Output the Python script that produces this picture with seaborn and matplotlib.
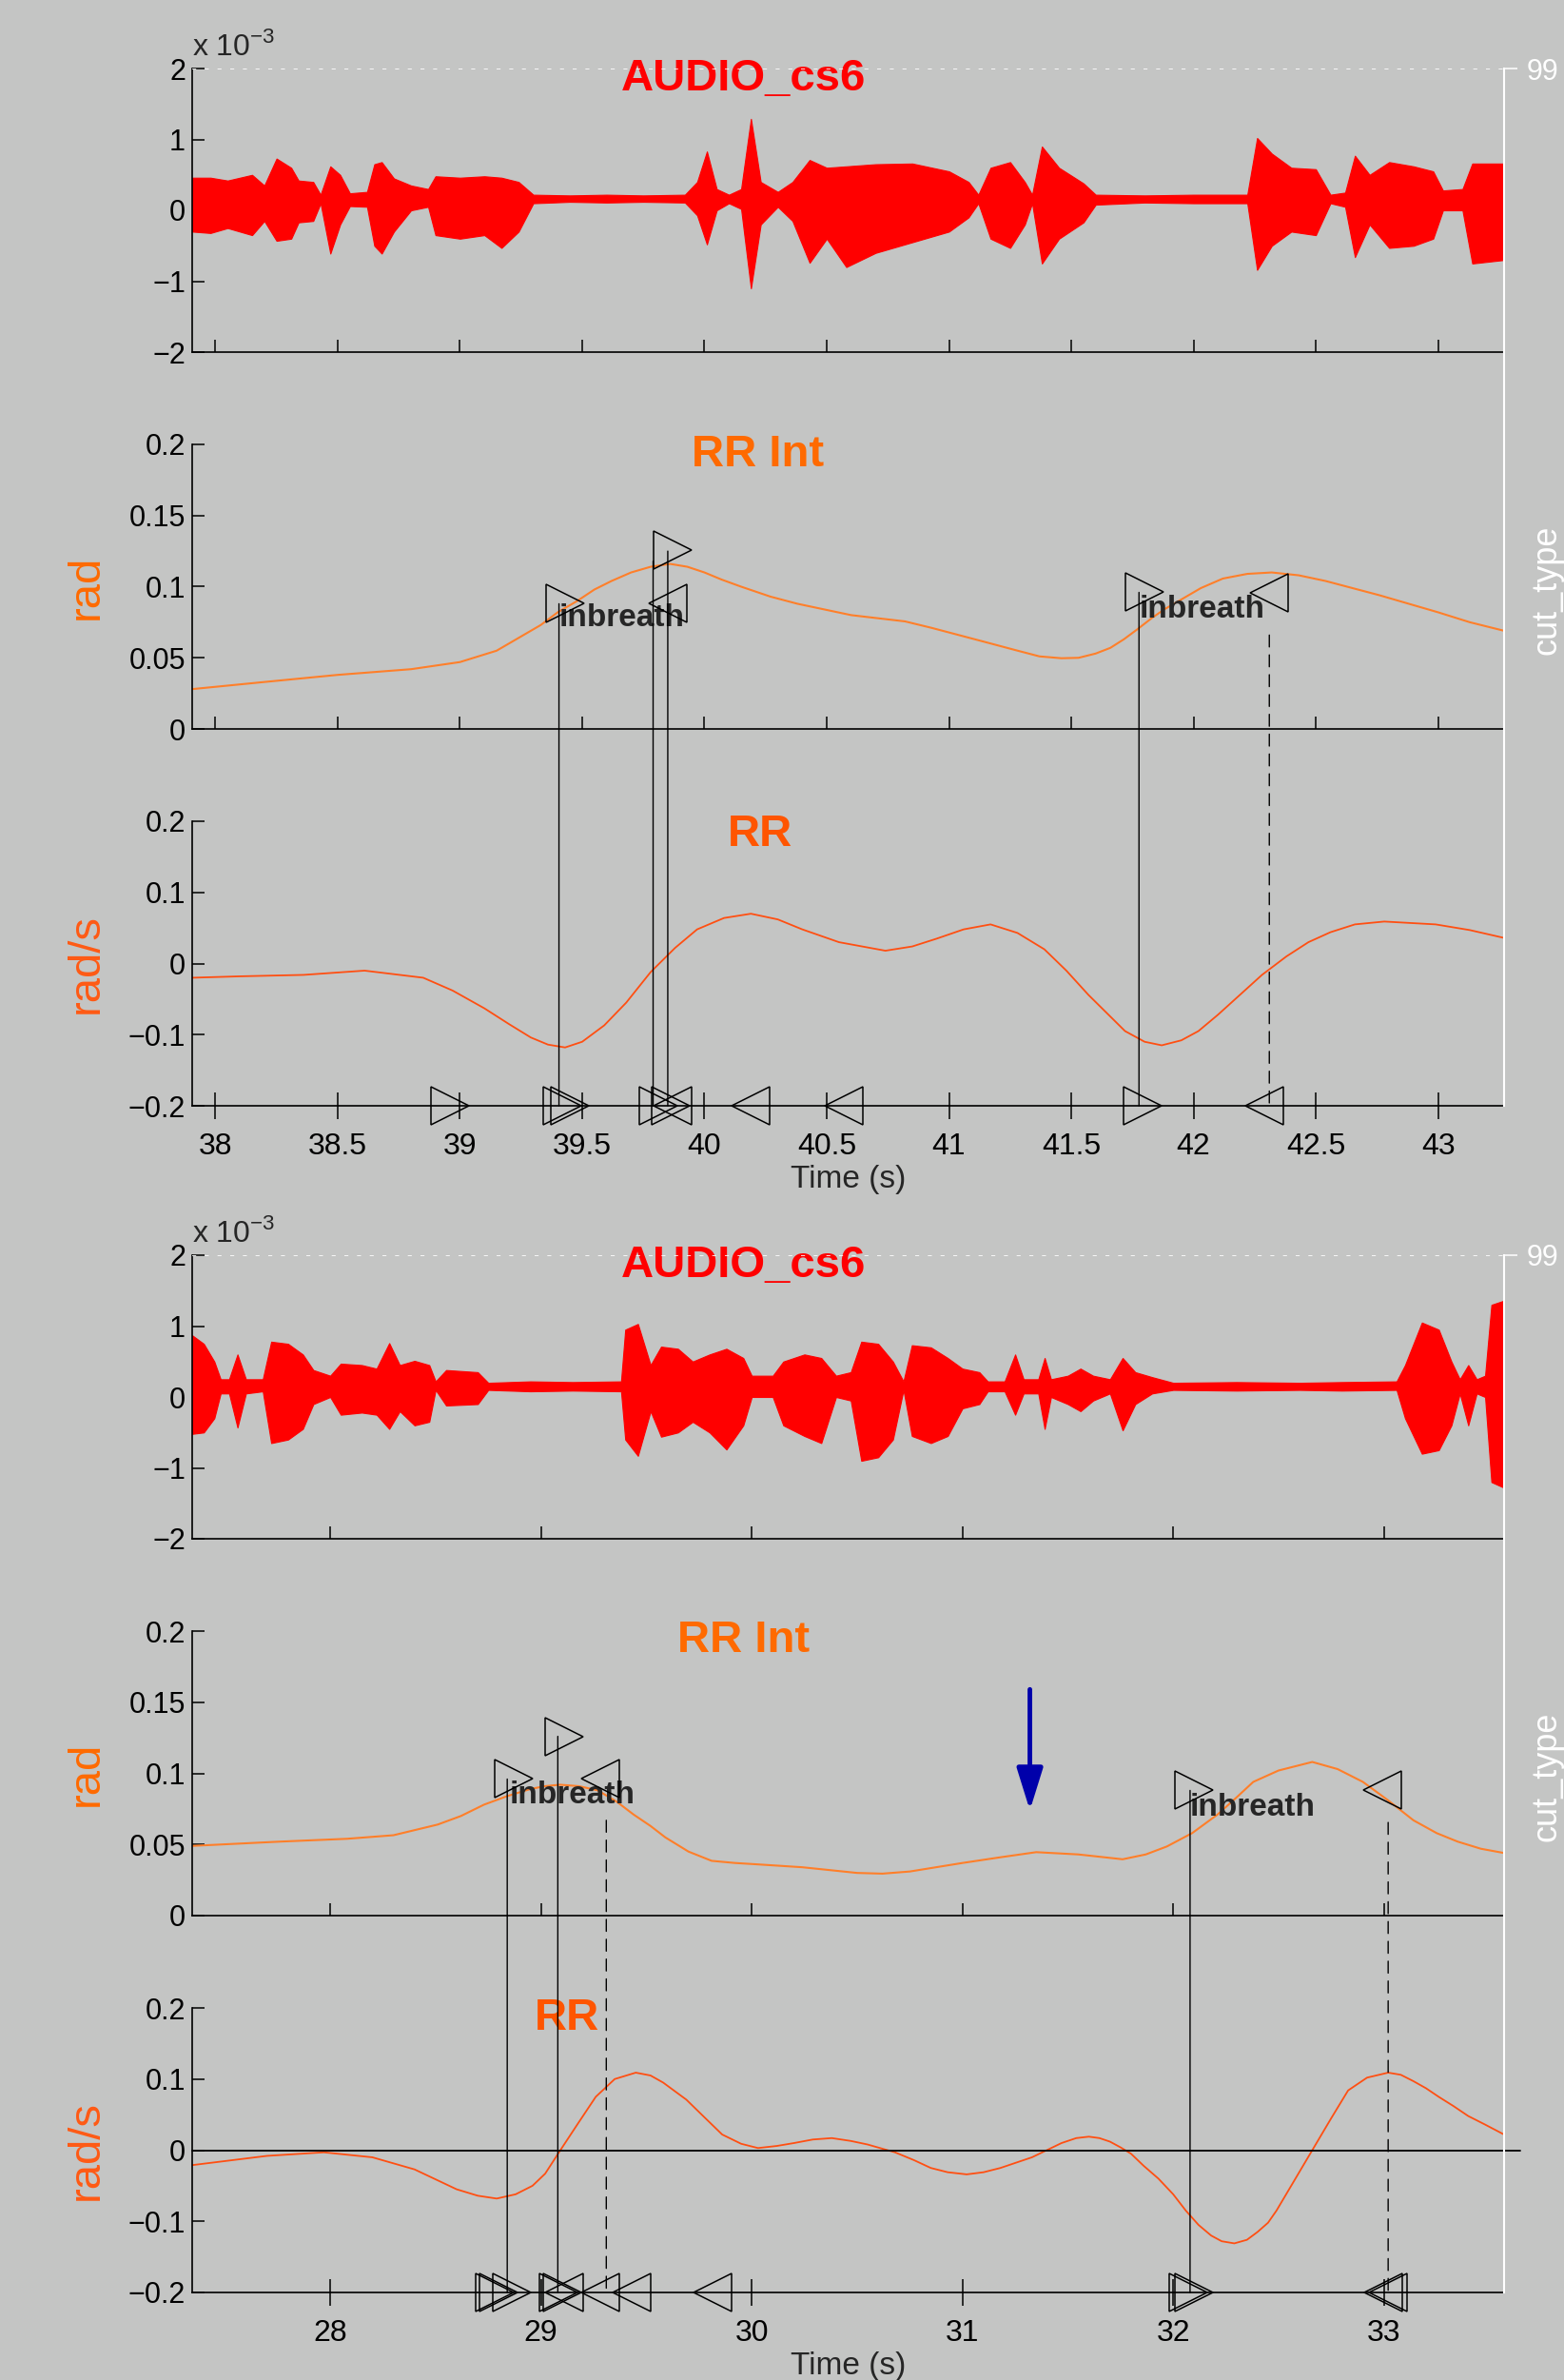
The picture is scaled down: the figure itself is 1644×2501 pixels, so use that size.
import matplotlib
matplotlib.use("Agg")
import matplotlib.pyplot as plt
import seaborn as sns
from matplotlib.patches import ConnectionPatch
from matplotlib.ticker import FuncFormatter, MultipleLocator

# ---- upper window, 38-43 s ----
up_audio_t = [37.905, 37.98, 38.05, 38.15, 38.20, 38.25, 38.31, 38.34, 38.40, 38.43,
              38.47, 38.51, 38.55, 38.62, 38.65, 38.68, 38.73, 38.80, 38.87, 38.90,
              39.00, 39.10, 39.17, 39.24, 39.30, 39.45, 39.60, 39.75, 39.92, 39.97,
              40.01, 40.05, 40.10, 40.15, 40.19, 40.23, 40.30, 40.36, 40.43, 40.50,
              40.58, 40.70, 40.85, 41.00, 41.08, 41.12, 41.17, 41.25, 41.31, 41.34,
              41.38, 41.45, 41.55, 41.60, 41.80, 42.00, 42.22, 42.26, 42.32, 42.40,
              42.50, 42.56, 42.62, 42.66, 42.72, 42.80, 42.90, 42.98, 43.02, 43.10,
              43.14, 43.27]
up_audio_hi = [0.46, 0.46, 0.42, 0.50, 0.35, 0.73, 0.60, 0.42, 0.40, 0.22,
               0.62, 0.50, 0.24, 0.26, 0.65, 0.68, 0.45, 0.35, 0.30, 0.48,
               0.46, 0.48, 0.46, 0.40, 0.22, 0.21, 0.22, 0.21, 0.22, 0.40,
               0.83, 0.30, 0.22, 0.30, 1.29, 0.40, 0.26, 0.40, 0.71, 0.60,
               0.62, 0.65, 0.66, 0.55, 0.40, 0.22, 0.60, 0.68, 0.40, 0.22,
               0.90, 0.60, 0.38, 0.22, 0.21, 0.22, 0.22, 1.02, 0.80, 0.60,
               0.58, 0.22, 0.25, 0.77, 0.50, 0.68, 0.62, 0.55, 0.28, 0.30,
               0.66, 0.66]
up_audio_lo = [-0.30, -0.32, -0.25, -0.35, -0.15, -0.43, -0.40, -0.17, -0.15, 0.10,
               -0.61, -0.20, 0.06, 0.05, -0.50, -0.61, -0.30, 0.00, 0.05, -0.35,
               -0.40, -0.35, -0.53, -0.30, 0.10, 0.12, 0.11, 0.12, 0.11, -0.07,
               -0.48, 0.00, 0.10, 0.02, -1.10, -0.20, 0.05, -0.15, -0.74, -0.40,
               -0.80, -0.60, -0.45, -0.30, -0.10, 0.10, -0.40, -0.53, -0.20, 0.10,
               -0.75, -0.40, -0.17, 0.08, 0.11, 0.10, 0.10, -0.84, -0.50, -0.30,
               -0.35, 0.10, 0.05, -0.66, -0.20, -0.53, -0.50, -0.40, 0.00, 0.00,
               -0.75, -0.70]

up_int_t = [37.905, 38.20, 38.50, 38.80, 39.00, 39.15, 39.26, 39.33, 39.40, 39.48,
            39.55, 39.62, 39.70, 39.78, 39.86, 39.93, 40.00, 40.07, 40.15, 40.27,
            40.38, 40.49, 40.60, 40.70, 40.82, 40.93, 41.04, 41.15, 41.27, 41.37,
            41.46, 41.53, 41.60, 41.66, 41.715, 41.77, 41.83, 41.88, 41.94, 42.03,
            42.12, 42.22, 42.32, 42.43, 42.54, 42.65, 42.76, 42.88, 43.00, 43.13,
            43.27]
up_int_v = [0.028, 0.033, 0.038, 0.042, 0.047, 0.055, 0.066, 0.073, 0.082, 0.090,
            0.098, 0.104, 0.110, 0.114, 0.116, 0.114, 0.110, 0.105, 0.100, 0.093,
            0.088, 0.084, 0.080, 0.078, 0.0756, 0.071, 0.066, 0.061, 0.0555, 0.051,
            0.0497, 0.050, 0.053, 0.057, 0.063, 0.070, 0.078, 0.084, 0.090, 0.099,
            0.1057, 0.109, 0.110, 0.108, 0.104, 0.099, 0.094, 0.088, 0.082, 0.075,
            0.069]

up_rr_t = [37.905, 38.10, 38.36, 38.61, 38.85, 38.97, 39.10, 39.20, 39.29, 39.36,
           39.43, 39.50, 39.59, 39.68, 39.78, 39.88, 39.97, 40.08, 40.19, 40.30,
           40.40, 40.55, 40.74, 40.85, 40.95, 41.06, 41.17, 41.28, 41.39, 41.48,
           41.57, 41.72, 41.80, 41.87, 41.95, 42.02, 42.10, 42.19, 42.28, 42.38,
           42.47, 42.56, 42.66, 42.78, 42.99, 43.13, 43.27]
up_rr_v = [-0.020, -0.018, -0.016, -0.010, -0.020, -0.038, -0.063, -0.085, -0.104, -0.114,
           -0.118, -0.110, -0.087, -0.055, -0.012, 0.022, 0.048, 0.064, 0.070, 0.062,
           0.048, 0.030, 0.018, 0.024, 0.035, 0.048, 0.055, 0.043, 0.020, -0.010,
           -0.044, -0.095, -0.110, -0.115, -0.108, -0.095, -0.072, -0.044, -0.016, 0.010,
           0.030, 0.044, 0.055, 0.059, 0.055, 0.047, 0.036]

up_rr_open = [38.96, 39.42, 39.45, 39.81, 39.86, 41.79]
up_rr_close = [39.87, 40.19, 40.57, 42.29]
up_int_open_t = [39.43, 39.87, 41.80]
up_int_open_y = [0.088, 0.126, 0.096]
up_int_close_t = [39.85, 42.31]
up_int_close_y = [0.088, 0.0957]
up_solid_t = [39.405, 39.79, 39.85, 41.777]
up_solid_y = [0.088, 0.118, 0.125, 0.096]
up_dash_t = [42.31]
up_dash_y = [0.066]
up_inbreath_t = [39.405, 41.777]
up_inbreath_y = [0.0776, 0.084]

# ---- lower window, 28-33 s ----
lo_audio_t = [27.345, 27.40, 27.45, 27.48, 27.52, 27.56, 27.60, 27.68, 27.72, 27.80,
              27.87, 27.92, 28.00, 28.05, 28.15, 28.22, 28.28, 28.33, 28.40, 28.47,
              28.50, 28.55, 28.70, 28.75, 28.95, 29.15, 29.38, 29.40, 29.46, 29.52,
              29.57, 29.65, 29.72, 29.80, 29.88, 29.96, 30.00, 30.10, 30.15, 30.25,
              30.33, 30.40, 30.47, 30.52, 30.60, 30.67, 30.72, 30.76, 30.85, 30.93,
              31.00, 31.08, 31.12, 31.20, 31.25, 31.29, 31.36, 31.39, 31.42, 31.50,
              31.56, 31.62, 31.70, 31.76, 31.82, 31.90, 32.00, 32.30, 32.60, 32.80,
              33.06, 33.10, 33.18, 33.26, 33.32, 33.36, 33.40, 33.44, 33.48, 33.51,
              33.57]
lo_audio_hi = [0.87, 0.75, 0.50, 0.25, 0.25, 0.60, 0.25, 0.25, 0.78, 0.75,
               0.60, 0.38, 0.30, 0.47, 0.45, 0.40, 0.76, 0.45, 0.51, 0.45,
               0.22, 0.38, 0.35, 0.20, 0.22, 0.21, 0.22, 0.95, 1.03, 0.45,
               0.71, 0.68, 0.50, 0.60, 0.68, 0.55, 0.30, 0.30, 0.50, 0.60,
               0.55, 0.30, 0.35, 0.78, 0.75, 0.50, 0.22, 0.73, 0.70, 0.55,
               0.40, 0.35, 0.22, 0.22, 0.60, 0.25, 0.25, 0.55, 0.25, 0.30,
               0.40, 0.30, 0.25, 0.55, 0.35, 0.28, 0.20, 0.21, 0.20, 0.21,
               0.22, 0.45, 1.05, 0.95, 0.50, 0.25, 0.45, 0.25, 0.30, 1.30,
               1.36]
lo_audio_lo = [-0.52, -0.50, -0.30, 0.05, 0.05, -0.43, 0.05, 0.08, -0.65, -0.60,
               -0.45, -0.10, 0.00, -0.25, -0.22, -0.25, -0.45, -0.20, -0.40, -0.35,
               0.10, -0.12, -0.10, 0.10, 0.08, 0.09, 0.08, -0.60, -0.83, -0.20,
               -0.56, -0.50, -0.35, -0.50, -0.74, -0.40, 0.00, 0.00, -0.40, -0.55,
               -0.65, 0.00, -0.05, -0.90, -0.85, -0.60, 0.10, -0.55, -0.65, -0.55,
               -0.16, -0.10, 0.08, 0.08, -0.25, 0.05, 0.05, -0.45, 0.00, -0.10,
               -0.20, -0.05, 0.05, -0.47, -0.10, 0.05, 0.10, 0.09, 0.10, 0.09,
               0.10, -0.30, -0.80, -0.75, -0.40, 0.05, -0.40, 0.05, 0.00, -1.20,
               -1.28]

lo_int_t = [27.345, 27.76, 28.08, 28.30, 28.51, 28.62, 28.73, 28.84, 28.95, 29.02,
            29.09, 29.18, 29.27, 29.36, 29.44, 29.52, 29.59, 29.70, 29.81, 29.92,
            30.03, 30.24, 30.50, 30.62, 30.75, 31.00, 31.18, 31.35, 31.55, 31.76,
            31.87, 31.97, 32.09, 32.21, 32.30, 32.38, 32.50, 32.66, 32.78, 32.90,
            33.02, 33.14, 33.25, 33.35, 33.46, 33.57]
lo_int_v = [0.049, 0.052, 0.054, 0.0565, 0.064, 0.070, 0.078, 0.084, 0.089, 0.091,
            0.092, 0.091, 0.088, 0.080, 0.071, 0.063, 0.055, 0.045, 0.0385, 0.037,
            0.036, 0.034, 0.030, 0.0295, 0.031, 0.037, 0.041, 0.0446, 0.043, 0.0396,
            0.043, 0.0486, 0.058, 0.071, 0.083, 0.094, 0.102, 0.108, 0.103, 0.094,
            0.081, 0.067, 0.058, 0.052, 0.047, 0.044]

lo_rr_t = [27.345, 27.70, 27.97, 28.20, 28.40, 28.60, 28.70, 28.79, 28.88, 28.96,
           29.02, 29.09, 29.17, 29.26, 29.35, 29.45, 29.52, 29.58, 29.69, 29.78,
           29.86, 29.95, 30.03, 30.12, 30.20, 30.29, 30.38, 30.47, 30.55, 30.68,
           30.77, 30.85, 30.93, 31.02, 31.10, 31.18, 31.25, 31.33, 31.40, 31.47,
           31.54, 31.60, 31.65, 31.70, 31.75, 31.80, 31.86, 31.93, 32.00, 32.06,
           32.12, 32.18, 32.23, 32.29, 32.35, 32.40, 32.45, 32.49, 32.57, 32.66,
           32.75, 32.83, 32.92, 33.02, 33.08, 33.14, 33.20, 33.26, 33.33, 33.40,
           33.48, 33.57]
lo_rr_v = [-0.021, -0.008, -0.003, -0.010, -0.027, -0.055, -0.064, -0.068, -0.062, -0.050,
           -0.033, -0.001, 0.035, 0.075, 0.100, 0.109, 0.105, 0.095, 0.071, 0.045,
           0.022, 0.009, 0.003, 0.006, 0.010, 0.015, 0.017, 0.013, 0.008, -0.003,
           -0.014, -0.025, -0.031, -0.034, -0.031, -0.025, -0.018, -0.010, 0.000, 0.010,
           0.017, 0.019, 0.017, 0.012, 0.004, -0.005, -0.022, -0.040, -0.062, -0.085,
           -0.105, -0.120, -0.128, -0.131, -0.126, -0.115, -0.102, -0.085, -0.045, 0.000,
           0.045, 0.084, 0.102, 0.109, 0.106, 0.097, 0.087, 0.075, 0.062, 0.048,
           0.036, 0.022]
lo_rr_zero_t = [27.345, 33.645]
lo_rr_zero_v = [0.0, 0.0]

lo_rr_open = [28.78, 28.80, 28.86, 29.085, 29.10, 32.07, 32.10]
lo_rr_close = [29.11, 29.28, 29.43, 29.815, 32.995, 33.02]
lo_int_open_t = [28.87, 29.11, 32.10]
lo_int_open_y = [0.096, 0.126, 0.088]
lo_int_close_t = [29.28, 32.99]
lo_int_close_y = [0.096, 0.088]
lo_solid_t = [28.84, 29.08, 32.08]
lo_solid_y = [0.096, 0.126, 0.088]
lo_dash_t = [29.31, 33.02]
lo_dash_y = [0.067, 0.0655]
lo_inbreath_t = [28.85, 32.08]
lo_inbreath_y = [0.0845, 0.076]

arrow_t = 31.32
arrow_from = 0.159
arrow_to = 0.074
cut_type_level = 99

## Style

BG = "#c4c5c4"
sns.set_theme(style="ticks", rc={"figure.facecolor": BG, "axes.facecolor": BG,
                                 "savefig.facecolor": BG, "axes.edgecolor": "black",
                                 "xtick.color": "black", "ytick.color": "black"})
plt.rcParams["font.family"] = ["Liberation Sans", "DejaVu Sans"]
plt.rcParams["mathtext.fontset"] = "custom"
plt.rcParams["mathtext.rm"] = "Liberation Sans"

W, H = 1644, 2501
L, R = 202, 1581
fig = plt.figure(figsize=(W / 100, H / 100), dpi=100)


def fmt(v, pos):
    if abs(v) < 1e-9:
        return "0"
    return f"{v:g}".replace("-", "\u2212")


def box(top, bot):
    return [L / W, 1 - bot / H, (R - L) / W, (bot - top) / H]


def make_axes(top, bot, xlim, ylim, yticks, xstep, xdir, xlen, xlabels):
    ax = fig.add_axes(box(top, bot))
    ax.set_xlim(xlim)
    ax.set_ylim(ylim)
    ax.set_yticks(yticks)
    ax.xaxis.set_major_locator(MultipleLocator(xstep))
    ax.xaxis.set_major_formatter(FuncFormatter(fmt))
    ax.yaxis.set_major_formatter(FuncFormatter(fmt))
    for s in ("top", "right"):
        ax.spines[s].set_visible(False)
    for s in ("left", "bottom"):
        ax.spines[s].set_linewidth(1.2)
    ax.tick_params(axis="y", direction="in", length=9.5, width=1.1, labelsize=22, pad=5)
    ax.tick_params(axis="x", direction=xdir, length=xlen, width=1.1, labelsize=23,
                   pad=10, labelbottom=xlabels)
    return ax


def title(ax, x, y, s, color):
    ax.text(x, y, s, transform=ax.transAxes, ha="center", va="center",
            fontsize=34, fontweight="bold", color=color)


def draw_group(y0, xlim, xstep, audio, rrint, rr, rr_open, rr_close, int_open, int_close,
               solid, dash, inbreath, tpos):
    # audio trace
    ax_a = make_axes(y0, y0 + 298, xlim, (-2, 2), [-2, -1, 0, 1, 2], xstep, "in", 9.5, False)
    ax_a.fill_between(audio[0], audio[2], audio[1], color="#ff0000", lw=0.8)
    ax_a.text(0, 1.047, r"x 10$^{\mathregular{-3}}$", transform=ax_a.transAxes,
              fontsize=23, ha="left", va="baseline")
    title(ax_a, tpos[0][0], tpos[0][1], "AUDIO_cs6", "#ff0000")

    # integrated respiration
    ax_i = make_axes(y0 + 395, y0 + 694, xlim, (0, 0.2), [0, 0.05, 0.1, 0.15, 0.2],
                     xstep, "in", 9.5, False)
    sns.lineplot(x=rrint[0], y=rrint[1], ax=ax_i, color="#ff7f2a", lw=1.5, sort=False)
    title(ax_i, tpos[1][0], tpos[1][1], "RR Int", "#ff6a00")
    ax_i.set_ylabel("rad", fontsize=34, color="#ff6a00")
    ax_i.yaxis.set_label_coords((113 - L) / (R - L), 0.5)
    ax_i.set_xlabel("")

    # respiration rate
    ax_r = make_axes(y0 + 791, y0 + 1090, xlim, (-0.2, 0.2), [-0.2, -0.1, 0, 0.1, 0.2],
                     xstep, "inout", 20, True)
    sns.lineplot(x=rr[0], y=rr[1], ax=ax_r, color="#ff4f12", lw=1.3, sort=False)
    title(ax_r, tpos[2][0], tpos[2][1], "RR", "#ff5500")
    ax_r.set_ylabel("rad/s", fontsize=34, color="#ff5a14")
    ax_r.yaxis.set_label_coords((113 - L) / (R - L), 0.5)
    ax_r.set_xlabel("Time (s)", fontsize=24, labelpad=3)

    mk = dict(ls="none", ms=29, mfc="none", mec="black", mew=1.1, clip_on=False, zorder=5)
    ax_r.plot(rr_open, [-0.2] * len(rr_open), marker=">", **mk)
    ax_r.plot(rr_close, [-0.2] * len(rr_close), marker="<", **mk)
    ax_i.plot(int_open[0], int_open[1], marker=">", **mk)
    ax_i.plot(int_close[0], int_close[1], marker="<", **mk)

    for ts, ys, ls in ((solid[0], solid[1], "-"), (dash[0], dash[1], (0, (9, 6)))):
        for t, y in zip(ts, ys):
            con = ConnectionPatch(xyA=(t, y), coordsA=ax_i.transData,
                                  xyB=(t, -0.2), coordsB=ax_r.transData,
                                  color="black", lw=1.0, ls=ls, zorder=4)
            fig.add_artist(con)

    for t, y in zip(inbreath[0], inbreath[1]):
        ax_i.text(t, y, "inbreath", fontsize=24, fontweight="bold", ha="left", va="center")

    # white cut_type overlay on the right
    ov = fig.add_axes(box(y0, y0 + 1090))
    ov.patch.set_visible(False)
    for s in ("left", "top", "bottom"):
        ov.spines[s].set_visible(False)
    ov.spines["right"].set_color("white")
    ov.spines["right"].set_linewidth(1.5)
    ov.set_xlim(0, 1)
    ov.set_xticks([])
    ov.set_ylim(0, cut_type_level)
    ov.yaxis.tick_right()
    ov.set_yticks([cut_type_level])
    ov.set_yticklabels([str(cut_type_level)])
    ov.tick_params(axis="y", colors="white", direction="out", length=10, width=1.1,
                   labelsize=22, pad=7)
    ov.axhline(cut_type_level, color="white", ls=(0, (2.5, 5.5)), lw=1.2)
    ov.text((1608 - L) / (R - L), 0.497, "cut_type", transform=ov.transAxes, rotation=90,
            ha="left", va="center", fontsize=26, color="white")
    return ax_a, ax_i, ax_r


draw_group(72, (37.905, 43.27), 0.5,
           (up_audio_t, up_audio_hi, up_audio_lo), (up_int_t, up_int_v), (up_rr_t, up_rr_v),
           up_rr_open, up_rr_close, (up_int_open_t, up_int_open_y),
           (up_int_close_t, up_int_close_y), (up_solid_t, up_solid_y),
           (up_dash_t, up_dash_y), (up_inbreath_t, up_inbreath_y),
           [(0.42, 0.962), (0.431, 0.962), (0.433, 0.953)])

ax_a2, ax_i2, ax_r2 = draw_group(
    1319, (27.345, 33.57), 1,
    (lo_audio_t, lo_audio_hi, lo_audio_lo), (lo_int_t, lo_int_v), (lo_rr_t, lo_rr_v),
    lo_rr_open, lo_rr_close, (lo_int_open_t, lo_int_open_y),
    (lo_int_close_t, lo_int_close_y), (lo_solid_t, lo_solid_y),
    (lo_dash_t, lo_dash_y), (lo_inbreath_t, lo_inbreath_y),
    [(0.42, 0.962), (0.42, 0.966), (0.286, 0.963)])

ax_r2.plot(lo_rr_zero_t, lo_rr_zero_v, color="black", lw=1.3, clip_on=False, zorder=3)
ax_i2.annotate("", xy=(arrow_t, arrow_to), xytext=(arrow_t, arrow_from),
               arrowprops=dict(arrowstyle="-|>,head_length=1.35,head_width=0.42",
                               mutation_scale=20, color="#0000aa", lw=3.5,
                               shrinkA=0, shrinkB=0))

fig.savefig("out.png", dpi=100)
